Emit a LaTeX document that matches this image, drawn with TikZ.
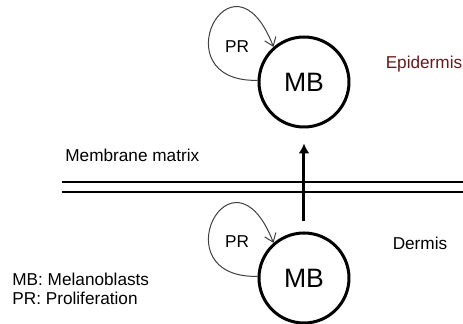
\documentclass[tikz,border=0pt]{standalone}
\usepackage{fontspec}
\setmainfont{Liberation Sans}
\usetikzlibrary{arrows.meta}
\definecolor{epired}{RGB}{105,25,25}
\begin{document}
\begin{tikzpicture}[x=0.5pt, y=-0.5pt, font=\fontsize{8.6}{10}\selectfont,
    cell/.style={draw, circle, line width=1.5pt, minimum size=45pt, inner sep=0pt, font=\fontsize{13.3}{15}\selectfont},
    loop/.style={draw=black!75, line width=0.5pt, -{Straight Barb[length=4pt, width=6pt]}},
    txt/.style={inner sep=0pt}]
        \useasboundingbox (0,0) rectangle (463,324);
        \node[cell] (mb1) at (304,82) {MB};
        \node[cell] (mb2) at (304,278) {MB};
        \node[txt] (pr1) at (237,47) {PR};
        \node[txt] (pr2) at (237,242) {PR};
        \node[txt, text=epired] (epi) at (424,64) {Epidermis};
        \node[txt] (derm) at (420,243) {Dermis};
        \node[txt, anchor=west] (memb) at (65,155) {Membrane matrix};
        \node[txt, anchor=west] (leg1) at (12,279) {MB: Melanoblasts};
        \node[txt, anchor=west] (leg2) at (12,298) {PR: Proliferation};
        \coordinate (l1) at (62,182);
        \coordinate (l2) at (62,192);
        \draw[line width=0.6pt] (l1) -- (463,182) (l2) -- (463,192);% membrane
        \draw[loop] (mb1.178) .. controls +(-98,2) and +(-42,-107) .. (mb1.131);
        \draw[loop] (mb2.178) .. controls +(-98,2) and +(-42,-107) .. (mb2.131);
        \draw[line width=1.5pt, -{Latex[length=5pt, width=5.5pt]}, shorten <=5pt, shorten >=7.5pt] (mb2.north) -- (mb1.south);% Arrow
    \end{tikzpicture}
\end{document}
